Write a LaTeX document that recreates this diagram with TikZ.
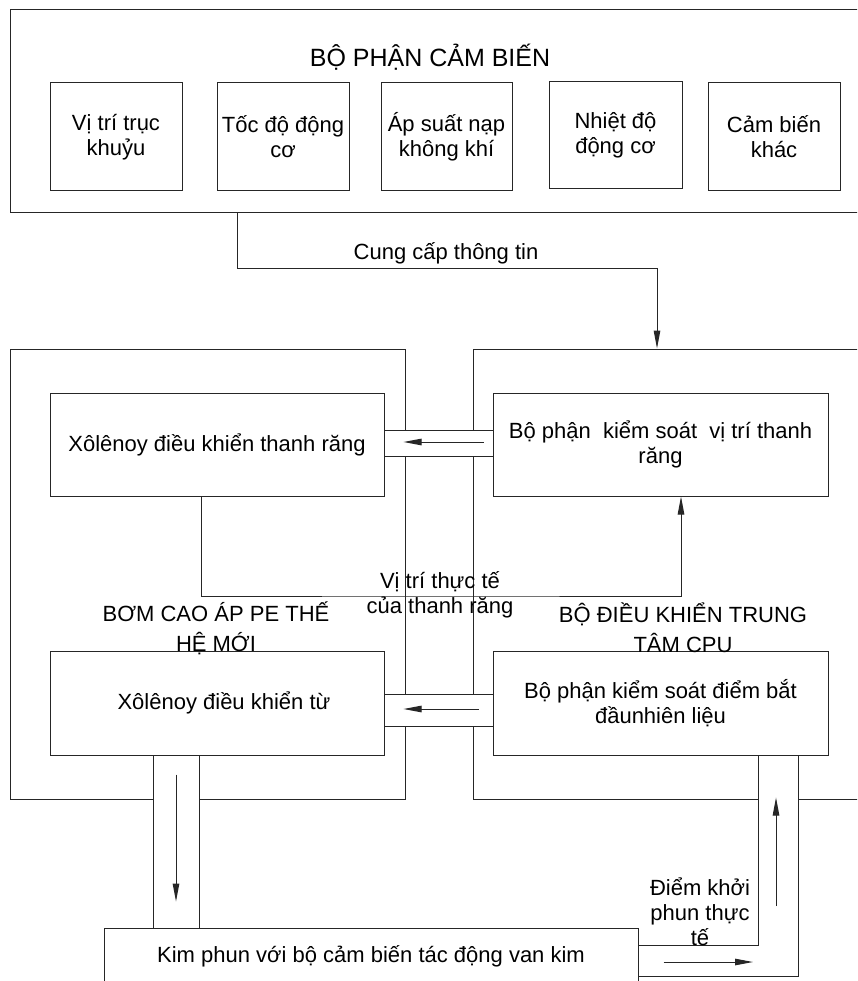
\documentclass[tikz,border=0pt]{standalone}
\usepackage{fontspec}
\setmainfont{Liberation Sans}
\usetikzlibrary{arrows.meta}
\begin{document}
\begin{tikzpicture}[x=1pt, y=-1pt,
  ln/.style={draw=black!85, line width=1pt},
  frame/.style={ln, inner sep=0pt},
  sbox/.style={ln, minimum width=132pt, minimum height=108pt, align=center, inner sep=0pt},
  wbox/.style={ln, minimum width=334pt, minimum height=103pt, align=center, inner sep=0pt},
  arr/.style={ln, -{Triangle[length=18pt, width=6.5pt]}},
  every node/.style={font=\fontsize{22}{25}\selectfont}]
\clip (0,0) rectangle (857,981);

% khung lon
\node[frame, minimum width=860pt, minimum height=203pt] (sensor) at (440,111.5) {};
\node[frame, minimum width=395pt, minimum height=450pt] (pump) at (207.5,574) {};
\node[frame, minimum width=397pt, minimum height=450pt] (cpu) at (671.5,574) {};

% nen trang cua cac ong
\fill[white] (384,430) rectangle (493,456);
\fill[white] (384,694) rectangle (493,726);
\fill[white] (153,755) rectangle (199,928);
\fill[white] (758,755) -- (798,755) -- (798,976) -- (638,976) -- (638,945) -- (758,945) -- cycle;

% cam bien
\node (title) at (430,57) {\fontsize{25}{30}\selectfont BỘ PHẬN CẢM BIẾN};
\node[sbox] (crank) at (116,137) {Vị trí trục\\khuỷu};
\node[sbox] (speed) at (283,137) {Tốc độ động\\cơ};
\node[sbox, minimum width=131pt] (map) at (446.5,137) {Áp suất nạp\\không khí};
\node[sbox, minimum width=133pt, minimum height=107pt] (temp) at (615.5,135.5) {Nhiệt độ\\động cơ};
\node[sbox] (other) at (774,136.5) {Cảm biến\\khác};

% cac khoi ben trong
\node[wbox] (xrack) at (217,444.5) {Xôlênoy điều khiển thanh răng};
\node[wbox, minimum width=335pt] (rackctl) at (660.5,444.5) {Bộ phận\ \ kiểm soát\ \ vị trí thanh\\răng};
\node[wbox, minimum height=104pt] (xtime) at (217,703) {\hspace*{14pt}Xôlênoy điều khiển từ};
\node[wbox, minimum width=335pt, minimum height=104pt] (timectl) at (660.5,703) {Bộ phận kiểm soát điểm bắt\\đầunhiên liệu};
\node[ln, minimum width=534pt, minimum height=56pt, inner sep=0pt] (inj) at (371,956) {Kim phun với bộ cảm biến tác động van kim};

% ong
\draw[ln] (xrack.east |- 0,430) -- (rackctl.west |- 0,430) (xrack.east |- 0,456) -- (rackctl.west |- 0,456);
\draw[ln] (xtime.east |- 0,694) -- (timectl.west |- 0,694) (xtime.east |- 0,726) -- (timectl.west |- 0,726);
\draw[ln] (xtime.south -| 153,0) -- (inj.north -| 153,0) (xtime.south -| 199,0) -- (inj.north -| 199,0);
\coordinate (ri) at (758,945);
\coordinate (ro) at (798,976);
\draw[ln] (timectl.south -| ri) -- (ri) -- (inj.east |- ri);
\draw[ln] (timectl.south -| ro) -- (ro) -- (inj.east |- ro);

% mui ten
\draw[arr, shorten <=9pt, shorten >=19pt] ([yshift=2.5pt]rackctl.west) -- ([yshift=2.5pt]xrack.east);
\draw[arr, shorten <=14pt, shorten >=19pt] ([yshift=-6pt]timectl.west) -- ([yshift=-6pt]xtime.east);
\coordinate (tl) at (176,0);
\draw[arr, shorten <=19pt, shorten >=26pt] (xtime.south -| tl) -- (inj.north -| tl);
\coordinate (up) at (776,906);
\draw[arr, shorten >=42pt] (up) -- (up |- timectl.south);
\coordinate (rgt) at (0,962);
\draw[arr, shorten <=25pt, shorten >=45pt] (inj.east |- rgt) -- (ro |- rgt);

% tin hieu
\coordinate (cc1) at (237,269);
\coordinate (cc2) at (657,269);
\draw[arr] (sensor.south -| cc1) -- (cc1) -- (cc2) -- (cpu.north -| cc2);
\coordinate (fb) at (440,596);
\draw[arr] ([xshift=-16pt]xrack.south) |- (fb) -| ([xshift=20.5pt]rackctl.south);

% nhan
\node (cclbl) at (446,253) {Cung cấp thông tin};
\node[align=center] (fblbl) at (440,595) {Vị trí thực tế\\của thanh răng};
\node[align=center, font=\fontsize{22}{30}\selectfont] (pumplbl) at (216,628) {BƠM CAO ÁP PE THẾ\\HỆ MỚI};
\node[align=center, font=\fontsize{22}{30}\selectfont] (cpulbl) at (683,628) {BỘ ĐIỀU KHIỂN TRUNG\\TÂM CPU};
\node[align=center] (actlbl) at (700,912) {Điểm khởi\\phun thực\\tế};
\end{tikzpicture}
\end{document}
